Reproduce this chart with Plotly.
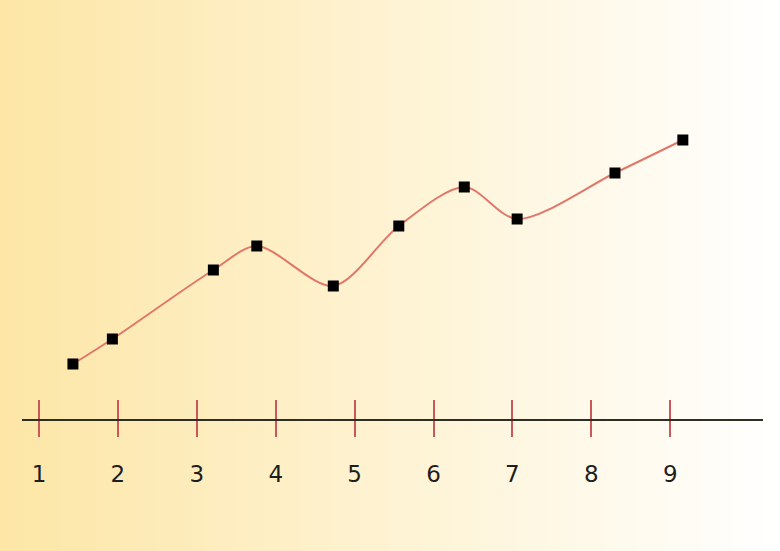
import plotly.graph_objects as go

# Data
x_values = [1.43, 1.93, 3.21, 3.76, 4.73, 5.56, 6.39, 7.06, 8.30, 9.16]
y_values = [5.5, 8.0, 14.9, 17.3, 13.3, 19.3, 23.2, 20.0, 24.6, 27.9]
tick_values = [1, 2, 3, 4, 5, 6, 7, 8, 9]
tick_labels = ["1", "2", "3", "4", "5", "6", "7", "8", "9"]

W, H = 780, 551
ML, MR, MT, MB = 22, 17, 0, 132
x_range = [0.7845, 10.176]
y_range = [0, 41.9]

fig = go.Figure()

fig.add_trace(go.Scatter(
    x=x_values, y=y_values,
    mode="lines+markers",
    line=dict(color="#E0776A", width=2, shape="spline", smoothing=0.85),
    marker=dict(symbol="square", size=11, color="#000000"),
    showlegend=False, hoverinfo="skip",
))
# invisible trace on the overlay axis (carries the upward half of the ticks)
fig.add_trace(go.Scatter(x=[x_range[0]], y=[0], xaxis="x2", mode="markers",
                         marker=dict(opacity=0), showlegend=False, hoverinfo="skip"))

# gradient background with thin strips in paper coordinates
n = 130
pw = W - ML - MR
ph = H - MT - MB
left = (0xFD, 0xE6, 0xA6)
right = (0xFF, 0xFF, 0xFF)
shapes = []
for i in range(n):
    t = i / (n - 1)
    c = tuple(round(left[k] + (right[k] - left[k]) * t) for k in range(3))
    x0 = (-ML + i * W / n) / pw
    x1 = (-ML + (i + 1) * W / n + 1) / pw
    shapes.append(dict(type="rect", xref="paper", yref="paper",
                       x0=x0, x1=x1, y0=-MB / ph - 0.01, y1=1 + MT / ph + 0.01,
                       fillcolor="rgb(%d,%d,%d)" % c, line=dict(width=0),
                       layer="below"))

fig.update_layout(
    width=W, height=H,
    margin=dict(l=ML, r=MR, t=MT, b=MB),
    paper_bgcolor="#FFFFFF", plot_bgcolor="rgba(0,0,0,0)",
    shapes=shapes,
    xaxis=dict(range=x_range, tickvals=tick_values, ticktext=tick_labels,
               showline=True, linecolor="#2E2E22", linewidth=2,
               ticks="outside", ticklen=16, tickwidth=1.5, tickcolor="#C8585A",
               showgrid=False, zeroline=False, ticklabelstandoff=17,
               tickfont=dict(family="DejaVu Sans", size=23, color="#1E1E1E")),
    xaxis2=dict(range=x_range, overlaying="x", anchor="y", side="bottom",
                tickvals=tick_values, showticklabels=False,
                ticks="inside", ticklen=19, tickwidth=1.5, tickcolor="#C8585A",
                showgrid=False, zeroline=False, showline=False),
    yaxis=dict(range=y_range, visible=False, showgrid=False, zeroline=False),
)

fig.write_html("out.html", config={"displayModeBar": False},
               post_script="document.body.style.margin='0';")
